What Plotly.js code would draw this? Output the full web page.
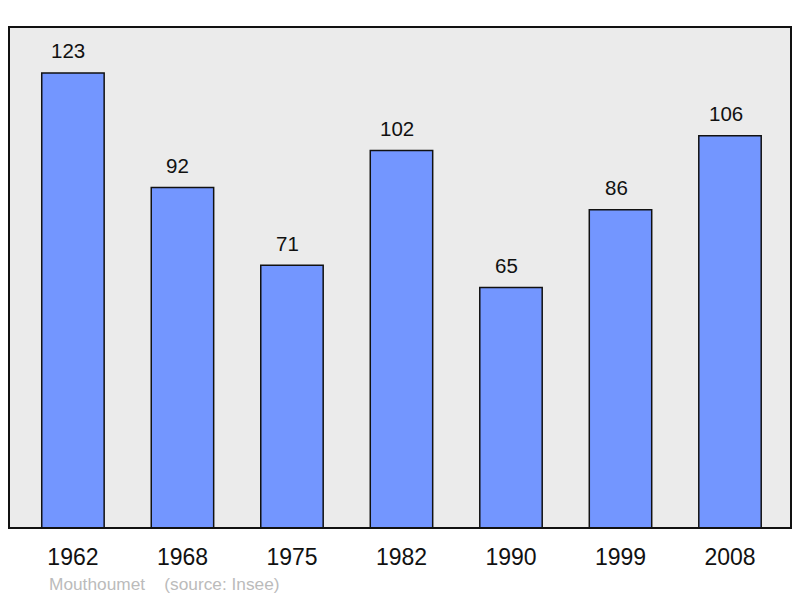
<!DOCTYPE html>
<html><head><meta charset="utf-8">
<script src="https://cdn.plot.ly/plotly-3.0.1.min.js"></script>
<style>html,body{margin:0;padding:0;background:#fff}#c{width:800px;height:598px}</style>
</head><body><div id="c"></div>
<script>
const years = ["1962","1968","1975","1982","1990","1999","2008"];
const population = [123, 92, 71, 102, 65, 86, 106];
const footer = "Mouthoumet&nbsp;&nbsp;&nbsp;&nbsp;(source: Insee)";

const trace = {
  type: 'bar', x: years, y: population, width: 0.57,
  marker: {color: '#7396ff', line: {color: '#111', width: 1.5}},
  hoverinfo: 'none'
};
const ann = years.map((yr, i) => ({
  x: i, y: population[i], text: String(population[i]), showarrow: false,
  yshift: 22, xshift: -4.5, font: {size: 20.5, color: '#111', family: 'Liberation Sans, Arial, sans-serif'}
}));
ann.push({xref: 'paper', yref: 'paper', x: 0.0485, y: -0.112, xanchor: 'left', yanchor: 'middle',
  text: footer, showarrow: false, font: {size: 17.3, color: '#bbbbbb', family: 'Liberation Sans, Arial, sans-serif'}});

const layout = {
  width: 800, height: 598,
  margin: {l: 9, r: 9, t: 27, b: 70},
  paper_bgcolor: '#ffffff', plot_bgcolor: '#ebebeb',
  showlegend: false,
  font: {family: 'Liberation Sans, Arial, sans-serif', color: '#111'},
  xaxis: {type: 'category', range: [-0.584, 6.557], showgrid: false, zeroline: false,
    showline: false, ticks: '', ticklabelstandoff: 13, tickfont: {size: 23, color: '#111'}, fixedrange: true},
  yaxis: {range: [0, 135.4], showgrid: false, zeroline: false, showticklabels: false,
    showline: false, ticks: '', fixedrange: true},
  shapes: [{type: 'rect', xref: 'paper', yref: 'paper', x0: 0, x1: 1, y0: 0, y1: 1,
    line: {color: '#111', width: 2}, layer: 'above'}],
  annotations: ann
};
Plotly.newPlot('c', [trace], layout, {displayModeBar: false, staticPlot: true});
</script></body></html>
